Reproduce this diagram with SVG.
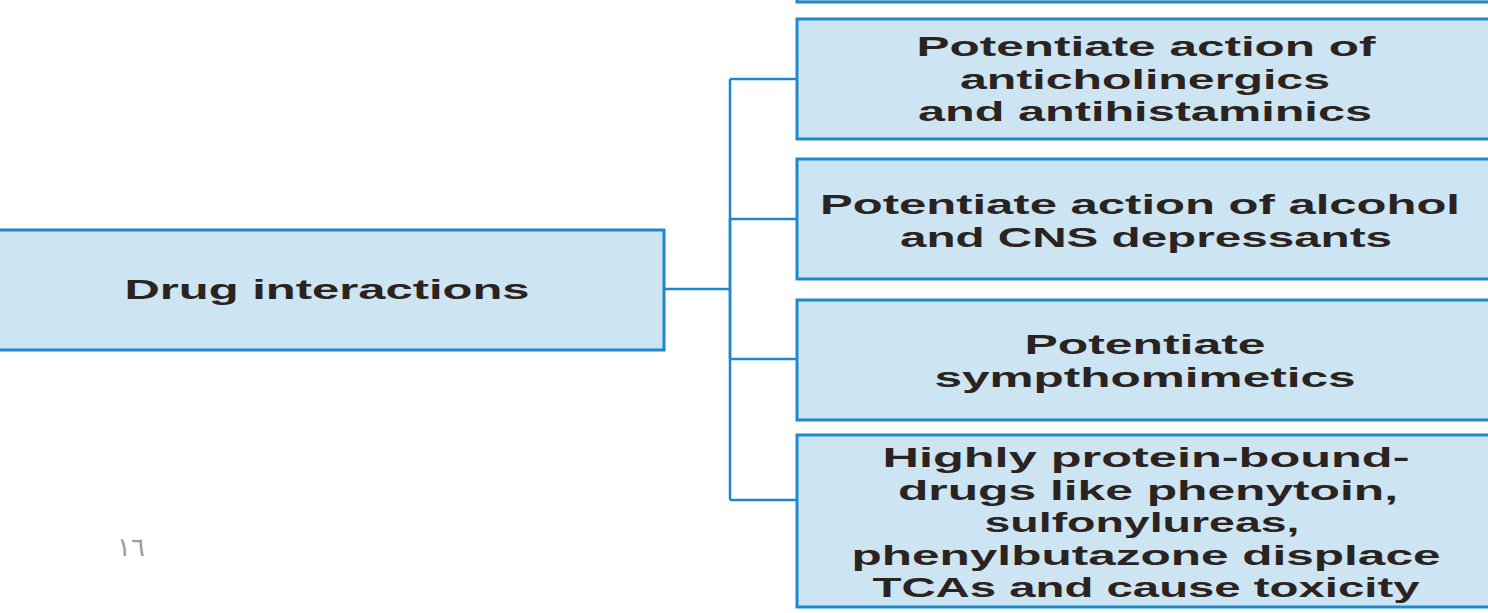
<svg xmlns="http://www.w3.org/2000/svg" width="1488" height="613" viewBox="0 0 1488 613">
  <style>
    .box { fill: #cde4f3; stroke: #1d89cc; stroke-width: 3; }
    .wire { stroke: #1d89cc; stroke-width: 2.5; fill: none; }
    .lbl { font-family: "Liberation Sans", "Open Sans", sans-serif; font-weight: 700; font-size: 28px; fill: #2a2320; text-anchor: middle; }
    .pg { font-family: "DejaVu Sans", sans-serif; font-size: 26px; fill: #9a9a9a; }
  </style>

  <rect width="1488" height="613" fill="#ffffff"/>

  <!-- connectors: root to trunk, trunk, and branches -->
  <g id="connectors">
    <path class="wire" d="M664 289 H730"/>
    <path class="wire" d="M730 79 V500"/>
    <path class="wire" d="M730 219 V359" stroke-width="4"/>
    <path class="wire" d="M730 79 H797 M730 219 H797 M730 359 H797 M730 500 H797"/>
  </g>

  <g id="node-top-partial">
    <rect class="box" x="797" y="-120" width="720" height="122"/>
  </g>

  <g id="node-root">
    <rect class="box" x="-3" y="230" width="667" height="120"/>
    <text class="lbl" x="327" y="299" textLength="405" lengthAdjust="spacingAndGlyphs">Drug interactions</text>
  </g>

  <g id="node-anticholinergics">
    <rect class="box" x="797" y="19" width="720" height="120"/>
    <text class="lbl" x="1146" y="56" textLength="459" lengthAdjust="spacingAndGlyphs">Potentiate action of</text>
    <text class="lbl" x="1145" y="89" textLength="370" lengthAdjust="spacingAndGlyphs">anticholinergics</text>
    <text class="lbl" x="1145" y="121" textLength="454" lengthAdjust="spacingAndGlyphs">and antihistaminics</text>
  </g>

  <g id="node-alcohol">
    <rect class="box" x="797" y="159" width="720" height="120"/>
    <text class="lbl" x="1140" y="214" textLength="640" lengthAdjust="spacingAndGlyphs">Potentiate action of alcohol</text>
    <text class="lbl" x="1146" y="247" textLength="492" lengthAdjust="spacingAndGlyphs">and CNS depressants</text>
  </g>

  <g id="node-sympathomimetics">
    <rect class="box" x="797" y="300" width="720" height="120"/>
    <text class="lbl" x="1145" y="354" textLength="241" lengthAdjust="spacingAndGlyphs">Potentiate</text>
    <text class="lbl" x="1145" y="387" textLength="421" lengthAdjust="spacingAndGlyphs">sympthomimetics</text>
  </g>

  <g id="node-protein-bound">
    <rect class="box" x="797" y="435" width="720" height="172"/>
    <text class="lbl" x="1146" y="467" textLength="527" lengthAdjust="spacingAndGlyphs">Highly protein-bound-</text>
    <text class="lbl" x="1148" y="500" textLength="500" lengthAdjust="spacingAndGlyphs">drugs like phenytoin,</text>
    <text class="lbl" x="1142" y="532" textLength="315" lengthAdjust="spacingAndGlyphs">sulfonylureas,</text>
    <text class="lbl" x="1146" y="565" textLength="589" lengthAdjust="spacingAndGlyphs">phenylbutazone displace</text>
    <text class="lbl" x="1146" y="597" textLength="547" lengthAdjust="spacingAndGlyphs">TCAs and cause toxicity</text>
  </g>

  <text class="pg" x="117" y="556">١٦</text>
</svg>
